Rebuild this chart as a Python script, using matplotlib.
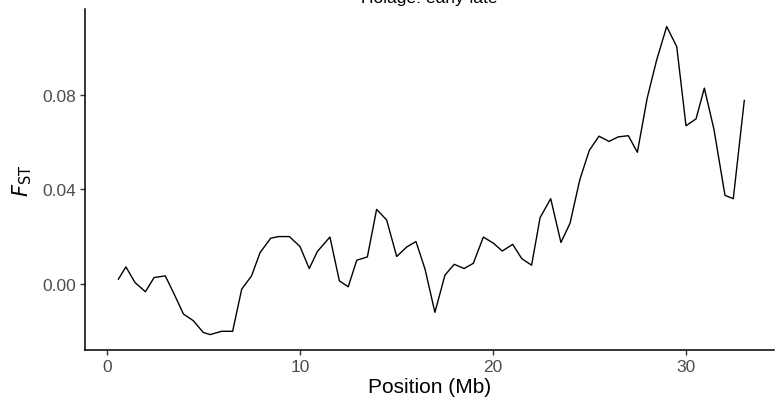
import numpy as np
import matplotlib
matplotlib.use('Agg')
import matplotlib.pyplot as plt

plt.rcParams['font.family'] = ['Liberation Sans', 'DejaVu Sans']

# sliding-window Fst along the chromosome
position_mb = [0.59, 0.98, 1.45, 1.99, 2.44, 3.02, 3.44, 3.96, 4.47, 4.99,
               5.34, 5.94, 6.51, 6.98, 7.49, 7.93, 8.48, 8.88, 9.45, 10.0,
               10.48, 10.9, 11.55, 12.04, 12.5, 12.94, 13.49, 13.97, 14.49, 15.01,
               15.53, 16.01, 16.48, 16.99, 17.51, 17.99, 18.5, 18.98, 19.5, 20.02,
               20.48, 21.02, 21.49, 22.0, 22.44, 22.99, 23.52, 23.99, 24.5, 24.99,
               25.49, 26.01, 26.49, 27.01, 27.48, 27.99, 28.48, 29.0, 29.52, 30.0,
               30.52, 30.95, 31.45, 32.02, 32.45, 33.02]
fst = [0.0021, 0.0073, 0.0007, -0.0032, 0.0028, 0.0035, -0.0035, -0.0126, -0.0154, -0.0204,
       -0.0213, -0.0199, -0.0199, -0.0021, 0.0035, 0.0133, 0.0194, 0.0201, 0.0201, 0.0159,
       0.0066, 0.0138, 0.0199, 0.0014, -0.0011, 0.0101, 0.0115, 0.0316, 0.0271, 0.0117,
       0.0157, 0.0180, 0.0063, -0.0119, 0.0038, 0.0084, 0.0066, 0.0088, 0.0199, 0.0173,
       0.0140, 0.0168, 0.0108, 0.0080, 0.0281, 0.0361, 0.0176, 0.0257, 0.0442, 0.0565,
       0.0625, 0.0603, 0.0622, 0.0627, 0.0557, 0.0786, 0.0947, 0.1088, 0.1003, 0.0669,
       0.0698, 0.0828, 0.0653, 0.0375, 0.0361, 0.0776]

x_ticks = [0, 10, 20, 30]
y_ticks = [0.00, 0.04, 0.08]
y_labels = ['0.00', '0.04', '0.08']
title = 'Holage: early-late'

fig = plt.figure(figsize=(7.79, 4.14), dpi=100)
ax = fig.add_axes([0.1091, 0.1522, 0.8845, 0.8236])

ax.plot(position_mb, fst, color='black', lw=1.0)

ax.set_xlim(-1.14, 34.56)
ax.set_ylim(-0.0278, 0.1162)
ax.set_xticks(x_ticks)
ax.set_yticks(y_ticks)
ax.set_yticklabels(y_labels)

for s in ['top', 'right']:
    ax.spines[s].set_visible(False)
for s in ['left', 'bottom']:
    ax.spines[s].set_linewidth(1.1)
    ax.spines[s].set_color('black')

ax.tick_params(axis='both', length=3.5, width=1.0, color='#333333',
               labelcolor='#4D4D4D', labelsize=12.5, pad=3)

ax.set_xlabel('Position (Mb)', fontsize=15, color='black', labelpad=2)
ax.set_ylabel('$F_{\\mathrm{ST}}$', fontsize=15, color='black', labelpad=6)

# title sits at the very top edge of the canvas
fig.text(0.551, 1 - 3 / 414, title, ha='center', va='baseline',
         fontsize=12.6, color='black')

fig.savefig('out.png', dpi=100)
